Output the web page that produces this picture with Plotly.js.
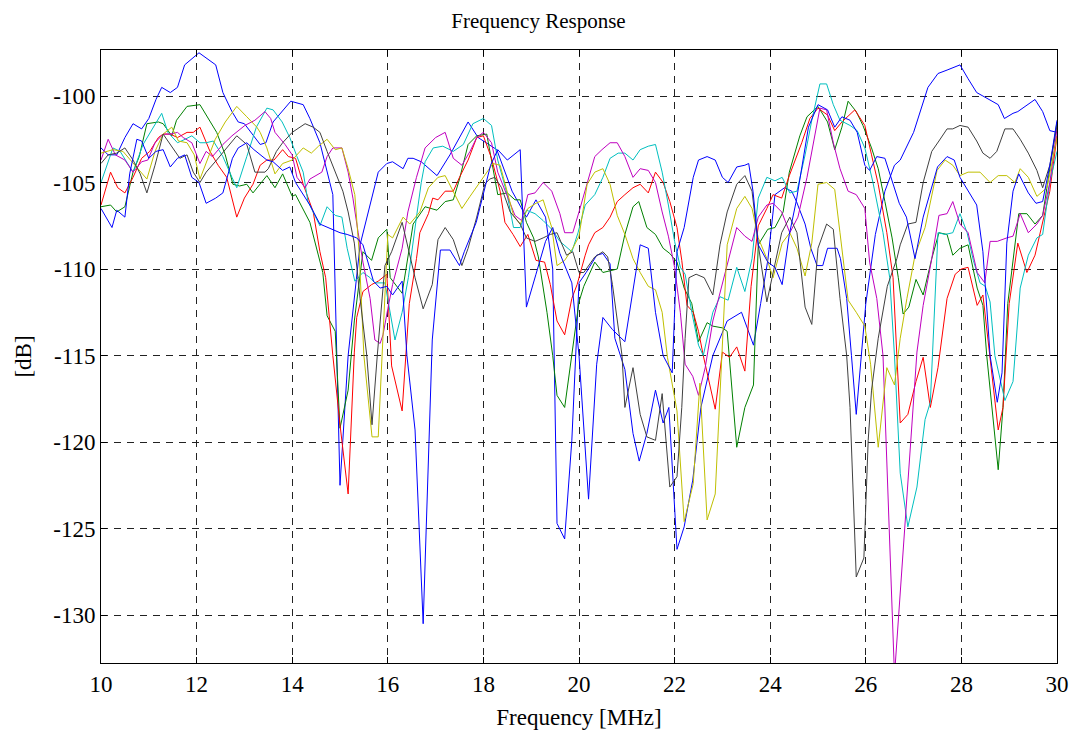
<!DOCTYPE html>
<html>
<head>
<meta charset="utf-8">
<script src="https://cdn.plot.ly/plotly-3.0.1.min.js"></script>
<style>html,body{margin:0;padding:0;background:#fff;}#chart{width:1077px;height:738px;}</style>
</head>
<body>
<div id="chart"></div>
<script>
// Each series: [frequency MHz, level dB]
const blue1 = [[10.0,-103.0],[10.15,-103.4],[10.33,-103.4],[10.5,-102.4],[10.67,-101.6],[10.85,-101.9],[11.0,-101.3],[11.15,-100.2],[11.27,-99.5],[11.45,-99.8],[11.6,-99.5],[11.75,-98.2],[12.05,-97.5],[12.4,-98.2],[12.55,-99.8],[12.74,-100.9],[12.87,-101.5],[13.0,-101.6],[13.33,-102.8],[13.45,-102.7],[13.6,-101.5],[13.97,-100.3],[14.23,-100.5],[14.37,-101.3],[14.58,-102.7],[14.73,-104.4],[14.85,-105.7],[15.0,-122.5],[15.17,-115],[15.42,-108.6],[15.63,-106.3],[15.8,-104.4],[15.98,-103.9],[16.1,-103.8],[16.32,-104.2],[16.42,-103.6],[16.53,-103.6],[16.7,-103.8],[17.03,-104.6],[17.3,-103.4],[17.68,-101.5],[17.89,-102.4],[18.28,-103.1],[18.6,-105.5],[18.9,-107],[19.1,-106],[19.3,-107],[19.45,-110],[19.54,-124.7],[19.7,-125.6],[19.85,-119.9],[20.0,-110.8],[20.15,-110.2],[20.37,-109.2],[20.5,-109.1],[20.65,-109.7],[20.75,-114],[20.96,-115.8],[21.13,-119.5],[21.26,-121.1],[21.42,-119.5],[21.6,-117],[21.76,-118.9],[21.88,-118],[22.05,-126.2],[22.2,-124.9],[22.38,-122.2],[22.55,-118],[22.8,-115],[23.1,-113],[23.4,-112.5],[23.65,-114.4],[23.8,-112],[23.95,-109.5],[24.1,-105.7],[24.3,-105.3],[24.45,-105.5],[24.55,-106.1],[24.73,-107.4],[24.85,-108.8],[24.98,-109.8],[25.1,-109.8],[25.2,-108.8],[25.4,-108.8],[25.47,-109.4],[25.6,-111.7],[25.7,-115],[25.8,-118.4],[26.0,-112],[26.2,-108],[26.4,-105.5],[26.6,-104],[26.72,-103.7],[27.0,-102.1],[27.3,-99.5],[27.51,-98.7],[27.7,-98.5],[27.87,-98.3],[27.97,-98.2],[28.14,-99],[28.32,-99.8],[28.45,-100],[28.63,-100.3],[28.77,-100.5],[28.9,-101.3],[29.08,-101],[29.18,-100.9],[29.54,-100.2],[29.7,-100.9],[29.85,-102],[30.0,-102.1]];

const green = [[10.0,-106.4],[10.2,-106.3],[10.33,-106.7],[10.5,-106.4],[10.67,-104.4],[10.8,-103.5],[10.96,-101.6],[11.2,-101.5],[11.3,-101.6],[11.48,-102.3],[11.58,-101.4],[11.8,-100.6],[12.07,-100.5],[12.22,-101.2],[12.42,-102.1],[12.6,-103.4],[12.76,-105.1],[12.9,-105.2],[13.05,-105.1],[13.18,-105.6],[13.33,-105.1],[13.47,-104.6],[13.64,-105.3],[13.8,-104.5],[14.0,-105.8],[14.07,-105.7],[14.37,-107.3],[14.64,-110.2],[14.73,-112.7],[14.9,-113.6],[15.0,-119.2],[15.17,-117],[15.3,-113],[15.48,-109],[15.66,-109.5],[15.8,-108.2],[15.98,-107.7],[16.05,-110.5],[16.3,-111.4],[16.53,-107.4],[16.78,-106.4],[17.03,-106.6],[17.2,-106.1],[17.37,-106],[17.5,-104.8],[17.68,-102.8],[17.86,-102.3],[18.07,-102.2],[18.3,-105.7],[18.5,-105.6],[18.66,-106],[18.77,-106],[18.9,-107.3],[19.05,-108.2],[19.15,-109.3],[19.33,-112.5],[19.45,-115],[19.54,-117.3],[19.7,-118],[19.9,-114],[20.0,-111.9],[20.1,-111],[20.33,-109.6],[20.5,-110.2],[20.8,-110],[20.96,-108],[21.13,-106.4],[21.25,-106.1],[21.42,-107.6],[21.6,-108],[21.76,-108.8],[21.9,-109.1],[22.05,-109.6],[22.2,-111.1],[22.36,-112],[22.5,-114.2],[22.68,-113.1],[22.8,-113.3],[23.0,-113.4],[23.1,-113.6],[23.3,-120.3],[23.47,-118],[23.65,-116.7],[23.75,-108.6],[23.95,-107.7],[24.1,-107.6],[24.27,-106.7],[24.4,-104.4],[24.62,-102.3],[24.77,-101.2],[25.0,-100.6],[25.2,-101.5],[25.35,-103.1],[25.5,-101.8],[25.63,-100.3],[25.8,-100.9],[25.94,-101.7],[26.12,-103],[26.26,-104.2],[26.4,-106.1],[26.55,-108.2],[26.68,-110.5],[26.78,-112.6],[26.9,-112.2],[27.05,-110.6],[27.2,-111.5],[27.38,-109.4],[27.53,-107.9],[27.7,-108],[27.82,-109.2],[27.97,-108.8],[28.14,-108.6],[28.33,-111.1],[28.45,-112.1],[28.53,-115],[28.77,-121.6],[28.87,-118],[28.97,-112],[29.2,-106.8],[29.37,-106.8],[29.54,-107.4],[29.7,-106.9],[30.0,-101.5]];

const red = [[10.0,-106.3],[10.2,-104.4],[10.35,-105.3],[10.5,-105.6],[10.67,-104.7],[10.85,-103.6],[11.02,-103.2],[11.2,-102.4],[11.3,-102.2],[11.45,-102.2],[11.6,-102.4],[11.8,-102.1],[11.93,-102.1],[12.07,-101.8],[12.28,-103.2],[12.45,-104],[12.63,-104.7],[12.84,-107],[13.0,-105.9],[13.18,-105.1],[13.33,-104],[13.47,-103.7],[13.62,-103.7],[13.8,-103.1],[13.92,-103.5],[14.07,-103.6],[14.23,-105.1],[14.44,-106.7],[14.58,-109],[14.7,-110.5],[14.85,-115],[15.0,-119],[15.17,-123],[15.3,-114.8],[15.35,-112.8],[15.48,-111.3],[15.66,-110.9],[15.8,-110.7],[15.98,-110.3],[16.08,-115.6],[16.3,-118.2],[16.45,-112],[16.6,-109.4],[16.67,-107.9],[16.85,-106.8],[16.94,-105.9],[17.05,-106],[17.2,-105.5],[17.37,-105.5],[17.5,-104.7],[17.68,-103.7],[17.86,-102.4],[18.0,-102.3],[18.17,-103.6],[18.35,-105.5],[18.45,-107.3],[18.62,-108],[18.77,-108.7],[18.93,-108],[19.1,-109.5],[19.28,-109.6],[19.4,-110.9],[19.54,-113],[19.7,-113.8],[19.85,-111.7],[19.96,-110.9],[20.13,-109.2],[20.2,-108.6],[20.33,-107.9],[20.5,-107.6],[20.65,-107],[20.8,-106.1],[20.96,-105.7],[21.13,-105.3],[21.28,-105.1],[21.45,-105.6],[21.6,-104.4],[21.76,-105],[21.9,-106.1],[22.05,-107.6],[22.15,-109.5],[22.26,-112.1],[22.39,-112.5],[22.5,-113.6],[22.6,-115],[22.85,-118.1],[23.0,-114.8],[23.15,-115.1],[23.3,-114.5],[23.47,-115.9],[23.6,-111],[23.75,-107.5],[23.93,-106.5],[24.06,-105.7],[24.24,-105.9],[24.4,-104.6],[24.66,-102.7],[24.83,-101.3],[25.0,-100.7],[25.2,-101.1],[25.35,-102],[25.5,-101.5],[25.77,-100.8],[25.98,-101.7],[26.12,-103.4],[26.26,-105.1],[26.44,-107.9],[26.57,-110.5],[26.65,-115],[26.72,-118.9],[26.88,-118.4],[27.05,-116.5],[27.2,-115.1],[27.35,-118],[27.51,-115.7],[27.7,-111.7],[27.87,-110.3],[28.0,-110],[28.14,-109.9],[28.33,-112.1],[28.45,-111.5],[28.6,-115],[28.77,-119.3],[28.87,-118],[29.0,-112],[29.18,-108.5],[29.37,-110.2],[29.54,-109.2],[29.7,-107.2],[29.85,-105.5],[30.0,-102.3]];

const cyan = [[10.0,-105],[10.12,-104],[10.25,-103],[10.4,-103.2],[10.67,-104.4],[10.88,-102.8],[11.09,-101.8],[11.27,-101],[11.4,-102.1],[11.6,-102.7],[11.76,-102.5],[11.9,-102.3],[12.07,-102.7],[12.2,-102.7],[12.35,-102.6],[12.55,-103.5],[12.74,-104.7],[12.84,-105.3],[13.05,-103.5],[13.25,-101.8],[13.47,-100.7],[13.6,-100.8],[13.79,-101.5],[13.95,-102.4],[14.1,-103.5],[14.23,-104.4],[14.33,-106.1],[14.45,-106.8],[14.58,-107.5],[14.73,-106.4],[14.9,-106.9],[15.04,-107],[15.15,-108.8],[15.31,-110.7],[15.48,-110.2],[15.63,-110.5],[15.73,-110.8],[15.94,-110.8],[16.15,-114.1],[16.3,-112.5],[16.43,-110.5],[16.6,-107],[16.7,-105],[16.78,-103.8],[16.95,-103],[17.15,-102.9],[17.37,-103.2],[17.58,-102.8],[17.78,-101.6],[18.0,-101.3],[18.17,-101.7],[18.3,-103.7],[18.49,-105.6],[18.63,-107.6],[18.77,-107.6],[18.9,-106.6],[19.08,-106.8],[19.25,-107.2],[19.43,-107.7],[19.6,-108.4],[19.85,-109],[19.98,-107.9],[20.13,-106.3],[20.33,-105.7],[20.5,-104.7],[20.65,-103.6],[20.82,-103.3],[20.96,-103.3],[21.13,-103.7],[21.28,-103.1],[21.45,-102.9],[21.6,-102.8],[21.74,-104.4],[21.87,-106.3],[22.0,-108.4],[22.12,-109.9],[22.22,-110.3],[22.36,-112.5],[22.5,-114.4],[22.6,-115],[22.8,-112.5],[22.95,-111.6],[23.12,-111.8],[23.3,-109.9],[23.47,-111.3],[23.62,-109.4],[23.75,-105.9],[23.93,-104.7],[24.1,-104.9],[24.25,-104.7],[24.41,-105.6],[24.56,-105.5],[24.73,-103.4],[24.87,-101.4],[25.04,-99.3],[25.18,-99.3],[25.32,-100.5],[25.46,-101.4],[25.67,-101.7],[25.82,-102],[25.98,-103],[26.15,-105],[26.36,-107.9],[26.5,-110.5],[26.6,-115],[26.72,-121.8],[26.88,-124.9],[27.07,-122.6],[27.24,-118.7],[27.35,-117.7],[27.42,-113],[27.51,-107.9],[27.66,-108],[27.82,-107.9],[27.97,-106.8],[28.12,-107.9],[28.25,-109.5],[28.39,-110.8],[28.5,-111],[28.6,-111.9],[28.7,-115],[28.91,-117.6],[29.08,-116.5],[29.23,-111.1],[29.4,-109.2],[29.58,-108.2],[29.7,-108],[29.85,-105],[30.0,-103.2]];

const magenta = [[10.0,-103.7],[10.15,-102.5],[10.3,-103.4],[10.5,-103.7],[10.67,-104.4],[10.85,-103.8],[10.98,-103.7],[11.13,-102.7],[11.3,-102.2],[11.45,-102.2],[11.6,-102.1],[11.72,-102.4],[11.9,-102.7],[12.07,-103.9],[12.2,-103.2],[12.33,-103.5],[12.55,-102.8],[12.74,-102.3],[13.01,-101.7],[13.22,-101.4],[13.43,-100.9],[13.55,-101.3],[13.64,-102.1],[13.85,-102.8],[14.0,-103.4],[14.1,-104.7],[14.27,-105.3],[14.37,-104.8],[14.62,-104.4],[14.73,-103.5],[14.85,-103],[15.04,-103],[15.17,-104.4],[15.27,-105.9],[15.38,-107.9],[15.48,-109.6],[15.63,-111.7],[15.73,-114.1],[15.84,-114.3],[15.9,-113.8],[16.0,-112.3],[16.1,-110.9],[16.3,-108.8],[16.42,-106.7],[16.6,-104.7],[16.78,-103],[17.0,-102.4],[17.2,-102.1],[17.37,-103.6],[17.55,-104],[17.72,-103.2],[17.86,-102.4],[18.0,-102.1],[18.17,-102.7],[18.3,-104.4],[18.49,-105.7],[18.66,-106.9],[18.8,-107.2],[18.93,-105.7],[19.08,-105.6],[19.25,-105],[19.43,-105.5],[19.6,-106.8],[19.7,-107.9],[19.87,-107.9],[20.0,-106.7],[20.17,-105.1],[20.33,-103.5],[20.48,-103.1],[20.65,-102.7],[20.8,-102.7],[20.96,-103.5],[21.13,-104.7],[21.28,-104.2],[21.45,-104.3],[21.6,-105],[21.74,-106.7],[21.87,-108.1],[22.0,-109.9],[22.12,-112.5],[22.22,-115.5],[22.38,-116.2],[22.5,-117.3],[22.64,-115.7],[22.8,-113],[23.0,-110.9],[23.3,-107.6],[23.47,-108.1],[23.62,-108.4],[23.75,-107],[23.93,-106.3],[24.06,-106.2],[24.24,-106.7],[24.41,-107.9],[24.58,-107],[24.77,-104.7],[24.9,-102.7],[25.04,-100.7],[25.18,-100.8],[25.32,-102.7],[25.46,-104.2],[25.63,-105.5],[25.8,-105.7],[25.98,-106.5],[26.08,-109.6],[26.23,-111.7],[26.36,-115],[26.6,-133.5],[27.07,-114.8],[27.2,-112.1],[27.38,-109.4],[27.53,-106.9],[27.7,-106.8],[27.82,-106.1],[27.97,-107.4],[28.14,-107.9],[28.33,-110.2],[28.49,-110.8],[28.6,-108.4],[28.75,-108.4],[28.95,-108.2],[29.08,-108.1],[29.23,-106.8],[29.4,-107.9],[29.58,-107.4],[29.7,-106.9],[29.85,-105],[30.0,-101.9]];

const yellow = [[10.0,-103.3],[10.25,-103.1],[10.46,-103.2],[10.67,-103.9],[10.96,-104.8],[11.13,-103.2],[11.3,-102.2],[11.48,-101.8],[11.62,-102.6],[11.8,-102.7],[11.95,-103.4],[12.07,-104.8],[12.2,-103.9],[12.39,-102.5],[12.6,-101.5],[12.84,-100.6],[13.05,-101.2],[13.26,-101.8],[13.33,-102.1],[13.47,-103],[13.64,-104.5],[13.8,-103.9],[14.0,-103.7],[14.23,-103],[14.4,-103.3],[14.55,-102.9],[14.73,-102.5],[14.9,-103.1],[15.04,-103],[15.17,-104.2],[15.31,-105.7],[15.4,-109],[15.5,-115],[15.67,-119.7],[15.8,-119.7],[15.9,-114],[16.0,-108],[16.1,-108.2],[16.32,-107],[16.46,-107.4],[16.67,-106.7],[16.85,-105.3],[17.05,-104.7],[17.2,-104.6],[17.37,-105.5],[17.55,-106.5],[17.72,-105.8],[17.89,-105.1],[18.07,-104.4],[18.2,-103.9],[18.35,-104],[18.5,-105.5],[18.63,-106.9],[18.77,-107.4],[18.93,-106.5],[19.1,-106.2],[19.25,-106],[19.43,-107.6],[19.54,-109.8],[19.7,-109.5],[19.87,-108.8],[20.0,-108.1],[20.17,-105.1],[20.33,-104.4],[20.5,-104.2],[20.65,-105.1],[20.8,-106.9],[20.96,-108],[21.13,-109.4],[21.28,-110.2],[21.45,-111],[21.6,-111.2],[21.74,-112.5],[21.85,-115.1],[22.05,-118.2],[22.2,-124.6],[22.39,-122.4],[22.53,-116.6],[22.68,-124.5],[22.85,-123],[23.1,-108.6],[23.3,-106.5],[23.47,-105.8],[23.62,-106.5],[23.75,-108.2],[23.93,-109.4],[24.06,-110.5],[24.25,-108.5],[24.41,-107.9],[24.56,-108.8],[24.73,-110.4],[24.87,-108.5],[25.0,-105.1],[25.18,-105],[25.35,-105.4],[25.46,-107.9],[25.63,-111.8],[25.8,-112.5],[25.98,-113.3],[26.1,-115.5],[26.26,-120.3],[26.44,-115.7],[26.6,-116.7],[26.72,-114],[26.86,-111.7],[27.03,-109.2],[27.24,-107.6],[27.49,-104.3],[27.66,-103.7],[27.82,-104],[27.97,-104.6],[28.14,-104.4],[28.39,-104.4],[28.6,-105],[28.77,-104.6],[28.95,-104.6],[29.12,-105],[29.23,-104.2],[29.4,-104.7],[29.58,-105.8],[29.79,-105.3],[30.0,-102.4]];

const black = [[10.0,-103.9],[10.15,-103.4],[10.33,-103.3],[10.5,-103],[10.67,-103.7],[10.82,-104.5],[10.96,-105.6],[11.13,-104],[11.3,-102.2],[11.48,-102.9],[11.65,-103.6],[11.8,-103.4],[11.93,-104.4],[12.07,-105],[12.2,-104.4],[12.42,-103.7],[12.63,-103],[12.84,-102.3],[13.05,-102.8],[13.22,-104.4],[13.43,-104.4],[13.5,-104.2],[13.67,-103.2],[13.8,-102.7],[14.0,-102.1],[14.12,-101.9],[14.27,-101.6],[14.44,-101.8],[14.58,-102.1],[14.73,-103.2],[14.94,-104.6],[15.06,-105.5],[15.17,-106.7],[15.3,-108.5],[15.42,-111.7],[15.56,-115],[15.67,-119],[15.78,-115],[15.94,-109.8],[16.08,-109],[16.3,-107.3],[16.42,-108.8],[16.57,-110.5],[16.74,-112.3],[16.93,-110.9],[17.05,-108.3],[17.2,-107.6],[17.37,-108.3],[17.55,-109.8],[17.68,-108.8],[17.86,-107],[18.03,-105.1],[18.13,-104.8],[18.24,-104.7],[18.38,-105.3],[18.56,-106.7],[18.77,-107.4],[18.9,-108.2],[19.08,-108.4],[19.25,-108.2],[19.4,-108],[19.54,-107.9],[19.74,-109.2],[19.87,-109],[20.0,-110.2],[20.1,-110.2],[20.33,-109.3],[20.5,-109],[20.6,-109.3],[20.7,-110.9],[20.9,-115],[20.96,-118],[21.13,-115.7],[21.28,-118.4],[21.42,-119.7],[21.6,-119.9],[21.74,-117.2],[21.9,-122.6],[22.05,-122],[22.15,-118],[22.22,-114],[22.3,-110.5],[22.45,-110.3],[22.62,-110.5],[22.8,-111.5],[22.95,-108.6],[23.1,-106.7],[23.3,-105.1],[23.47,-104.6],[23.62,-105.5],[23.75,-108.6],[23.93,-111.9],[24.06,-110.3],[24.24,-107.9],[24.41,-107],[24.56,-107.9],[24.73,-112.2],[24.87,-113.2],[25.0,-108.8],[25.18,-107.4],[25.32,-107.7],[25.46,-111.7],[25.6,-115],[25.67,-118],[25.8,-127.8],[25.96,-126.7],[26.05,-119.9],[26.12,-117],[26.26,-114],[26.45,-111],[26.65,-109.4],[26.72,-108.6],[26.88,-107.4],[27.05,-107.3],[27.2,-105],[27.38,-103.2],[27.53,-102.6],[27.7,-101.9],[27.82,-101.9],[27.97,-101.7],[28.14,-101.8],[28.32,-102.6],[28.45,-103.3],[28.6,-103.6],[28.74,-103.2],[28.91,-101.9],[29.08,-101.9],[29.23,-102.5],[29.4,-103.3],[29.58,-104.3],[29.7,-105.3],[29.85,-104],[30.0,-101.7]];

const blue2 = [[10.0,-106.5],[10.23,-107.6],[10.33,-106.6],[10.5,-107],[10.6,-104.5],[10.75,-102.5],[10.85,-102.6],[11.0,-103.6],[11.15,-103.2],[11.3,-103.1],[11.45,-104.1],[11.6,-103.6],[11.75,-103.4],[11.9,-104.7],[12.05,-105],[12.2,-106.2],[12.4,-105.9],[12.55,-105.6],[12.75,-103.6],[12.87,-103],[13.05,-102.7],[13.2,-103.1],[13.47,-103.7],[13.6,-103.8],[13.8,-104.3],[13.95,-104.1],[14.07,-105],[14.37,-106.3],[14.58,-107.4],[15.0,-107.9],[15.15,-108],[15.35,-108.2],[15.48,-108.6],[15.7,-110.7],[15.84,-111.1],[15.98,-111],[16.1,-111.5],[16.3,-110.7],[16.4,-115],[16.57,-119.3],[16.74,-130.5],[16.93,-114.1],[17.1,-108.9],[17.3,-108.9],[17.5,-109.8],[17.6,-109],[17.85,-107.3],[18.05,-105.1],[18.15,-104],[18.3,-103.1],[18.5,-103.7],[18.77,-103.1],[18.9,-112.2],[19.1,-110.3],[19.3,-108.4],[19.45,-107.6],[19.6,-109.1],[19.85,-110.8],[20.0,-115],[20.2,-123.3],[20.37,-115.5],[20.5,-112.8],[20.7,-113.5],[20.96,-114.2],[21.28,-108.6],[21.45,-108.8],[21.6,-112.5],[21.76,-115],[21.95,-116],[22.05,-109],[22.2,-107.6],[22.39,-104.7],[22.5,-103.7],[22.68,-103.5],[22.85,-103.7],[23.0,-104.7],[23.12,-105],[23.3,-104.1],[23.47,-104],[23.55,-103.9],[23.64,-105.5],[23.75,-108.6],[23.95,-109.6],[24.1,-109.9],[24.25,-110.9],[24.4,-108],[24.55,-106],[24.8,-101.8],[25.0,-100.5],[25.2,-100.8],[25.35,-101.8],[25.5,-101.2],[25.67,-101.4],[25.82,-102.1],[25.98,-104],[26.08,-104.3],[26.23,-103.5],[26.4,-103.6],[26.57,-105],[26.7,-106.2],[26.85,-107],[27.03,-109.4],[27.2,-107],[27.35,-105.5],[27.5,-104.1],[27.7,-103.5],[27.85,-103.7],[27.97,-104.7],[28.14,-105.5],[28.32,-106.3],[28.45,-109],[28.6,-115],[28.75,-117.7],[28.85,-116],[28.95,-108.5],[29.08,-105.5],[29.2,-104.5],[29.4,-105.6],[29.56,-106.2],[29.7,-106.1],[29.85,-104],[30.0,-101.4]];

const seriesList = [blue1, green, red, cyan, magenta, yellow, black, blue2];
const seriesColors = ['#0000FF', '#008000', '#FF0000', '#00BFBF', '#BF00BF', '#BFBF00', '#404040', '#0000FF'];

const xTickVals = [10, 12, 14, 16, 18, 20, 22, 24, 26, 28, 30];
const yTickVals = [-100, -105, -110, -115, -120, -125, -130];
const yTickText = ['-100', '-105', '-110', '-115', '-120', '-125', '-130'];

const traces = seriesList.map((s, i) => ({
  type: 'scatter',
  mode: 'lines',
  x: s.map(p => p[0]),
  y: s.map(p => p[1]),
  line: {color: seriesColors[i], width: 1},
  hoverinfo: 'skip'
}));

const serif = 'Liberation Serif, Times New Roman, serif';
const axisCommon = {
  showline: true, linecolor: '#000', linewidth: 1, mirror: 'ticks',
  ticks: 'inside', ticklen: 6, tickcolor: '#000', tickwidth: 1,
  showgrid: true, gridcolor: '#222', gridwidth: 1, griddash: '7px,6px',
  zeroline: false,
  tickfont: {family: serif, size: 23, color: '#000'}
};

const layout = {
  width: 1077, height: 738,
  margin: {l: 101, r: 20, t: 50, b: 75},
  paper_bgcolor: '#fff', plot_bgcolor: '#fff',
  showlegend: false,
  title: {text: 'Frequency Response', font: {family: serif, size: 21, color: '#000'}, x: 0.5, xanchor: 'center', y: 0.972, yanchor: 'middle', yref: 'container'},
  xaxis: Object.assign({}, axisCommon, {
    range: [10, 30], tickvals: xTickVals,
    title: {text: 'Frequency [MHz]', font: {family: serif, size: 23, color: '#000'}, standoff: 13}
  }),
  yaxis: Object.assign({}, axisCommon, {
    range: [-132.77, -97.34], tickvals: yTickVals, ticktext: yTickText,
    title: {text: '[dB]', font: {family: serif, size: 23, color: '#000'}, standoff: 15}
  })
};

Plotly.newPlot('chart', traces, layout, {displayModeBar: false, staticPlot: true});
</script>
</body>
</html>
